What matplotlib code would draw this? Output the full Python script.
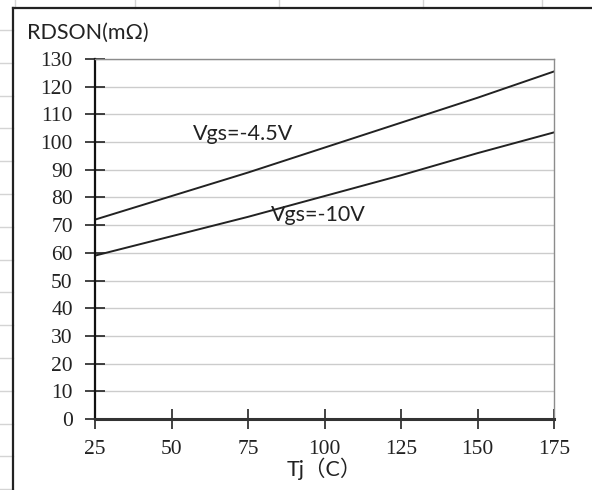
import numpy as np
import matplotlib
matplotlib.use('Agg')
import matplotlib.pyplot as plt
from matplotlib.lines import Line2D

# junction temperature (C)
tj = [25, 50, 75, 100, 125, 150, 175]
# RDSON (mOhm)
rds_45 = [72, 80.5, 89, 98, 107, 116, 125.5]
rds_10 = [59, 66, 73, 80.5, 88, 96, 103.5]

yticks = list(range(0, 131, 10))
xticks = [25, 50, 75, 100, 125, 150, 175]

fig = plt.figure(figsize=(5.92, 4.90), dpi=100)

# spreadsheet grid behind the chart object
for x in [15, 135, 279, 423, 542]:
    fig.add_artist(Line2D([x / 592, x / 592], [1 - 8 / 490, 1], color='#d4d4d4', lw=1))
for y in np.arange(30, 490, 32.8):
    fig.add_artist(Line2D([0, 13 / 592], [1 - y / 490, 1 - y / 490], color='#d4d4d4', lw=1))
# chart frame
fig.add_artist(Line2D([13 / 592, 13 / 592], [0, 1 - 8 / 490], color='#222222', lw=1.6))
fig.add_artist(Line2D([13 / 592, 1], [1 - 8 / 490, 1 - 8 / 490], color='#222222', lw=1.6))

ax = fig.add_axes([95 / 592, 1 - 419 / 490, 459 / 592, 360 / 490])

ax.plot(tj, rds_45, color='#222222', lw=1.4)
ax.plot(tj, rds_10, color='#222222', lw=1.4)

ax.set_xlim(25, 175)
ax.set_ylim(0, 130)
ax.set_xticks(xticks)
ax.set_yticks(yticks)
ax.grid(axis='y', color='#cccccc', lw=1)
ax.set_axisbelow(True)

for s in ['top', 'right']:
    ax.spines[s].set_color('#8c8c8c')
    ax.spines[s].set_linewidth(1)
ax.spines['left'].set_color('#111111')
ax.spines['left'].set_linewidth(1.6)
ax.spines['bottom'].set_color('#333333')
ax.spines['bottom'].set_linewidth(2.2)

ax.tick_params(direction='inout', length=14, width=1.2, color='#222222',
               labelsize=15.5)
ax.tick_params(axis='y', pad=9)
ax.tick_params(axis='x', pad=8)
for lab in ax.get_xticklabels() + ax.get_yticklabels():
    lab.set_family('Liberation Serif')
    lab.set_color('#222222')

ax.text(57, 103, 'Vgs=-4.5V', fontsize=15.5, family='Lato', color='#222222', va='center')
ax.text(82.5, 73.5, 'Vgs=-10V', fontsize=15.5, family='Lato', color='#222222', va='center')

fig.text(27 / 592, 1 - 33 / 490, 'RDSON(mΩ)', fontsize=15.5, family=['Lato', 'DejaVu Sans'],
         color='#222222', va='center')
fig.text(324 / 592, 1 - 469 / 490, 'Tj（C）', fontsize=15.5,
         family=['Lato', 'Noto Sans CJK SC'], color='#222222', va='center', ha='center')

fig.savefig('out.png', dpi=100)
